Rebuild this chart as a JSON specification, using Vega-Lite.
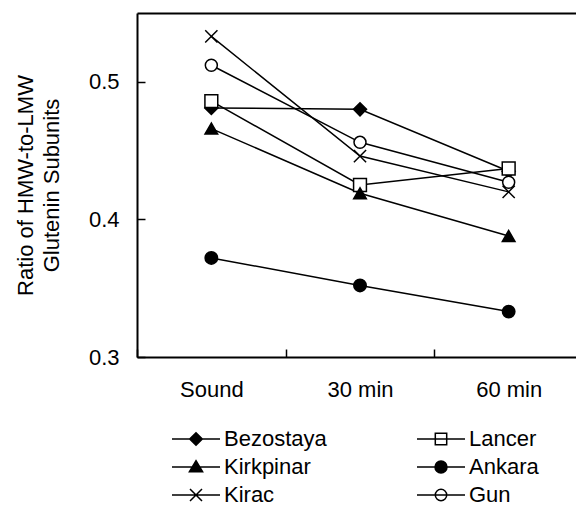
{
  "$schema": "https://vega.github.io/schema/vega-lite/v6.json",
  "width": 439,
  "height": 344,
  "autosize": {"type": "none"},
  "padding": {"left": 137, "top": 13, "right": 0, "bottom": 151},
  "background": "white",
  "config": {"view": {"stroke": null}, "font": "Liberation Sans",
             "axis": {"labelFontSize": 22, "titleFontSize": 22}},
  "data": {"values": [
    {"series": "Bezostaya", "time": "Sound", "ratio": 0.481},
    {"series": "Bezostaya", "time": "30 min", "ratio": 0.480},
    {"series": "Bezostaya", "time": "60 min", "ratio": 0.435},
    {"series": "Lancer", "time": "Sound", "ratio": 0.486},
    {"series": "Lancer", "time": "30 min", "ratio": 0.425},
    {"series": "Lancer", "time": "60 min", "ratio": 0.437},
    {"series": "Kirkpinar", "time": "Sound", "ratio": 0.466},
    {"series": "Kirkpinar", "time": "30 min", "ratio": 0.419},
    {"series": "Kirkpinar", "time": "60 min", "ratio": 0.388},
    {"series": "Ankara", "time": "Sound", "ratio": 0.372},
    {"series": "Ankara", "time": "30 min", "ratio": 0.352},
    {"series": "Ankara", "time": "60 min", "ratio": 0.333},
    {"series": "Kirac", "time": "Sound", "ratio": 0.533},
    {"series": "Kirac", "time": "30 min", "ratio": 0.446},
    {"series": "Kirac", "time": "60 min", "ratio": 0.420},
    {"series": "Gun", "time": "Sound", "ratio": 0.512},
    {"series": "Gun", "time": "30 min", "ratio": 0.456},
    {"series": "Gun", "time": "60 min", "ratio": 0.427}
  ]},
  "layer": [
    {
      "mark": {"type": "line", "stroke": "black", "strokeWidth": 1.5},
      "encoding": {
        "x": {"field": "time", "type": "nominal", "sort": ["Sound", "30 min", "60 min"],
              "scale": {"type": "band", "range": [0, 446], "paddingInner": 0, "paddingOuter": 0},
              "axis": {"orient": "bottom", "title": null, "labelAngle": 0, "labelFontSize": 22, "labelColor": "black",
                       "domainColor": "black", "domainWidth": 2, "tickBand": "extent", "tickSize": -8,
                       "tickColor": "black", "tickWidth": 1.5, "labelPadding": 30, "grid": false}},
        "y": {"field": "ratio", "type": "quantitative",
              "scale": {"domain": [0.3, 0.55], "nice": false, "zero": false},
              "axis": {"values": [0.3, 0.4, 0.5], "format": ".1f", "labelFontSize": 22, "labelColor": "black",
                       "domainColor": "black", "domainWidth": 2, "tickSize": -8, "tickColor": "black",
                       "tickWidth": 1.5, "labelPadding": 26, "grid": false,
                       "title": ["Ratio of HMW-to-LMW", "Glutenin Subunits"], "titleFontSize": 22,
                       "titleFontWeight": "normal", "titleColor": "black", "titleLineHeight": 26, "titlePadding": 25}},
        "detail": {"field": "series"}
      }
    },
    {
      "mark": {"type": "point", "stroke": "black", "strokeWidth": 1.5, "opacity": 1},
      "encoding": {
        "x": {"field": "time", "type": "nominal", "sort": ["Sound", "30 min", "60 min"],
              "axis": {"orient": "top", "title": null, "labels": false, "ticks": false, "domainColor": "black",
                       "domainWidth": 2, "grid": false}},
        "y": {"field": "ratio", "type": "quantitative",
              "axis": {"values": [0.3, 0.4, 0.5], "format": ".1f", "labelFontSize": 22, "labelColor": "black",
                       "domainColor": "black", "domainWidth": 2, "tickSize": -8, "tickColor": "black",
                       "tickWidth": 1.5, "labelPadding": 26, "grid": false,
                       "title": ["Ratio of HMW-to-LMW", "Glutenin Subunits"], "titleFontSize": 22,
                       "titleFontWeight": "normal", "titleColor": "black", "titleLineHeight": 26, "titlePadding": 25}},
        "shape": {"field": "series", "type": "nominal", "legend": null,
                  "scale": {"domain": ["Bezostaya", "Lancer", "Kirkpinar", "Ankara", "Kirac", "Gun"],
                            "range": ["diamond", "square", "triangle-up", "circle", "M-1,-1L1,1M-1,1L1,-1", "circle"]}},
        "fill": {"field": "series", "type": "nominal", "legend": null,
                 "scale": {"domain": ["Bezostaya", "Lancer", "Kirkpinar", "Ankara", "Kirac", "Gun"],
                           "range": ["black", "white", "black", "black", "black", "white"]}},
        "size": {"field": "series", "type": "nominal", "legend": null,
                 "scale": {"domain": ["Bezostaya", "Lancer", "Kirkpinar", "Ankara", "Kirac", "Gun"],
                           "range": [170, 144, 190, 190, 169, 144]}}
      }
    },
    {
      "mark": {"type": "point", "strokeWidth": 1.5, "size": 0},
      "encoding": {
        "x": {"field": "time", "type": "nominal", "sort": ["Sound", "30 min", "60 min"], "axis": null},
        "y": {"field": "ratio", "type": "quantitative",
              "axis": {"values": [0.3, 0.4, 0.5], "format": ".1f", "labelFontSize": 22, "labelColor": "black",
                       "domainColor": "black", "domainWidth": 2, "tickSize": -8, "tickColor": "black",
                       "tickWidth": 1.5, "labelPadding": 26, "grid": false,
                       "title": ["Ratio of HMW-to-LMW", "Glutenin Subunits"], "titleFontSize": 22,
                       "titleFontWeight": "normal", "titleColor": "black", "titleLineHeight": 26, "titlePadding": 25}},
        "shape": {"field": "series", "type": "nominal",
                  "scale": {"domain": ["Bezostaya", "Lancer", "Kirkpinar", "Ankara", "Kirac", "Gun"],
                            "range": [
                              "M-4,0L4,0M0,-1.05L1.05,0L0,1.05L-1.05,0Z",
                              "M-4,0L4,0M-0.95,-0.95L0.95,-0.95L0.95,0.95L-0.95,0.95Z",
                              "M-4,0L4,0M0,-1.05L1.1,0.8L-1.1,0.8Z",
                              "M-4,0L4,0M1,0A1,1,0,1,1,-1,0A1,1,0,1,1,1,0Z",
                              "M-4,0L4,0M-1,-1L1,1M-1,1L1,-1",
                              "M-4,0L4,0M0.95,0A0.95,0.95,0,1,1,-0.95,0A0.95,0.95,0,1,1,0.95,0Z"
                            ]},
                  "legend": {"orient": "none", "legendX": 48, "legendY": 415, "columns": 2, "direction": "horizontal",
                             "title": null,
                             "symbolSize": 144, "symbolStrokeWidth": 1.5,
                             "symbolOpacity": 1, "labelFontSize": 22, "labelColor": "black",
                             "labelOffset": 17, "rowPadding": 6, "columnPadding": 87, "padding": 0,
                             "encode": {"symbols": {"opacity": {"value": 1},
                                                    "strokeWidth": {"value": 1.5},
                                                    "size": {"value": 144}}}}},
        "fill": {"field": "series", "type": "nominal",
                 "scale": {"domain": ["Bezostaya", "Lancer", "Kirkpinar", "Ankara", "Kirac", "Gun"],
                           "range": ["black", "transparent", "black", "black", "black", "transparent"]}},
        "stroke": {"field": "series", "type": "nominal",
                   "scale": {"domain": ["Bezostaya", "Lancer", "Kirkpinar", "Ankara", "Kirac", "Gun"],
                             "range": ["black", "black", "black", "black", "black", "black"]}}
      }
    }
  ],
  "resolve": {"scale": {"shape": "independent", "fill": "independent", "size": "independent", "stroke": "independent"},
              "axis": {"x": "independent"}}
}
